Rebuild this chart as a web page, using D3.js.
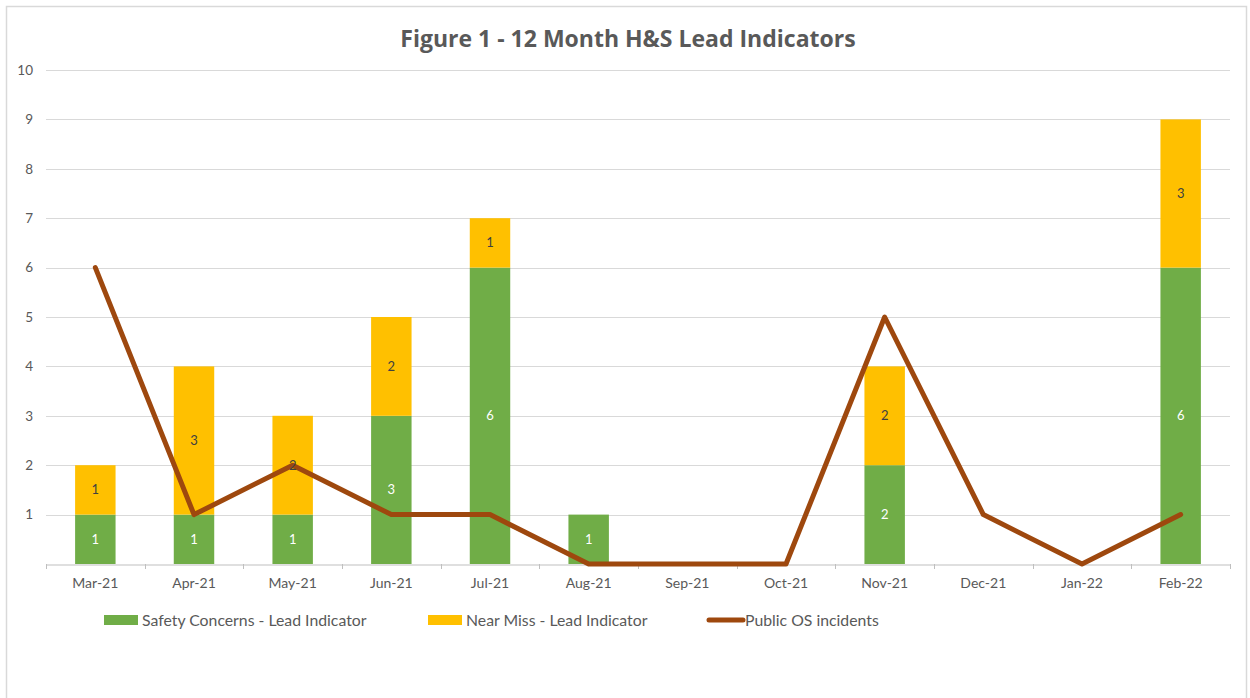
<!DOCTYPE html>
<html>
<head>
<meta charset="utf-8">
<script src="https://cdn.jsdelivr.net/npm/d3@7"></script>
<style>
  html, body { margin: 0; padding: 0; background: #ffffff; }
  svg { display: block; }
</style>
</head>
<body>
<svg id="chart" width="1250" height="698"></svg>
<script>
// Monthly categories and series
const months = ["Mar-21", "Apr-21", "May-21", "Jun-21", "Jul-21", "Aug-21",
                "Sep-21", "Oct-21", "Nov-21", "Dec-21", "Jan-22", "Feb-22"];
const safetyConcerns = [1, 1, 1, 3, 6, 1, 0, 0, 2, 0, 0, 6];
const nearMiss       = [1, 3, 2, 2, 1, 0, 0, 0, 2, 0, 0, 3];
const publicOS       = [6, 1, 2, 1, 1, 0, 0, 0, 5, 1, 0, 1];
const yTicks = [1, 2, 3, 4, 5, 6, 7, 8, 9, 10];

const seriesNames = ["Safety Concerns - Lead Indicator", "Near Miss - Lead Indicator", "Public OS incidents"];
const colors = { safety: "#70AD47", near: "#FFC000", line: "#9E480E" };
const font = "Lato, 'Open Sans', sans-serif";

const svg = d3.select("#chart");

// chart frame
svg.append("rect")
  .attr("x", 6.5).attr("y", 6.5)
  .attr("width", 1240).attr("height", 700)
  .attr("fill", "#ffffff")
  .attr("stroke", "#d9d9d9").attr("stroke-width", 1.5);

const plot = { left: 46, right: 1230, top: 70, bottom: 564 };

const x = d3.scaleBand().domain(months).range([plot.left, plot.right]).paddingInner(0).paddingOuter(0);
const y = d3.scaleLinear().domain([0, 10]).range([plot.bottom, plot.top]);
const barW = x.step() * 0.41;

// title
svg.append("text")
  .attr("x", 628).attr("y", 47)
  .attr("text-anchor", "middle")
  .attr("font-family", "'Open Sans', sans-serif")
  .attr("font-weight", "bold")
  .attr("font-size", 23)
  .attr("fill", "#595959")
  .text("Figure 1 - 12 Month H&S Lead Indicators");

// gridlines
svg.append("g")
  .selectAll("line")
  .data(yTicks)
  .join("line")
  .attr("x1", plot.left).attr("x2", plot.right)
  .attr("y1", d => Math.round(y(d)) + 0.5).attr("y2", d => Math.round(y(d)) + 0.5)
  .attr("stroke", "#d9d9d9").attr("stroke-width", 1);

// y axis labels
const yAxis = svg.append("g")
  .attr("transform", `translate(${plot.left},0)`)
  .call(d3.axisLeft(y).tickValues(yTicks).tickSize(0).tickPadding(13));
yAxis.select(".domain").remove();
yAxis.selectAll("text")
  .attr("font-family", font).attr("font-size", 13.5).attr("fill", "#595959");

// stacked bars
const stackData = months.map((m, i) => ({ month: m, safety: safetyConcerns[i], near: nearMiss[i] }));
const stacked = d3.stack().keys(["safety", "near"])(stackData);

const barG = svg.append("g");
stacked.forEach(layer => {
  barG.append("g")
    .attr("fill", colors[layer.key])
    .selectAll("rect")
    .data(layer.filter(d => d[1] - d[0] > 0))
    .join("rect")
    .attr("x", d => x(d.data.month) + (x.step() - barW) / 2)
    .attr("width", barW)
    .attr("y", d => y(d[1]))
    .attr("height", d => y(d[0]) - y(d[1]));
});

// x axis
const xAxis = svg.append("g")
  .attr("transform", `translate(0,${plot.bottom + 0.5})`)
  .call(d3.axisBottom(x).tickSize(0).tickPadding(14));
xAxis.select(".domain").attr("stroke", "#bfbfbf");
xAxis.selectAll("text")
  .attr("font-family", font).attr("font-size", 14).attr("fill", "#595959");
// category boundary ticks
svg.append("g")
  .selectAll("line")
  .data(d3.range(months.length + 1))
  .join("line")
  .attr("x1", i => Math.round(plot.left + i * x.step()) + 0.5)
  .attr("x2", i => Math.round(plot.left + i * x.step()) + 0.5)
  .attr("y1", plot.bottom).attr("y2", plot.bottom + 5)
  .attr("stroke", "#bfbfbf");

// line series
const line = d3.line()
  .x((d, i) => x(months[i]) + x.bandwidth() / 2)
  .y(d => y(d));
svg.append("path")
  .datum(publicOS)
  .attr("d", line)
  .attr("fill", "none")
  .attr("stroke", colors.line)
  .attr("stroke-width", 5)
  .attr("stroke-linejoin", "round")
  .attr("stroke-linecap", "round");

// data labels inside bar segments
stacked.forEach(layer => {
  svg.append("g")
    .selectAll("text")
    .data(layer.filter(d => d[1] - d[0] > 0))
    .join("text")
    .attr("x", d => x(d.data.month) + x.step() / 2)
    .attr("y", d => (y(d[0]) + y(d[1])) / 2)
    .attr("dy", "0.35em")
    .attr("text-anchor", "middle")
    .attr("font-family", font).attr("font-size", 13)
    .attr("fill", layer.key === "safety" ? "#ffffff" : "#404040")
    .text(d => d[1] - d[0]);
});

// legend
const legendItems = [
  { name: seriesNames[0], type: "rect", color: colors.safety, x: 104 },
  { name: seriesNames[1], type: "rect", color: colors.near, x: 428 },
  { name: seriesNames[2], type: "line", color: colors.line, x: 707 }
];
const legY = 620;
const leg = svg.append("g");
legendItems.forEach(it => {
  if (it.type === "rect") {
    leg.append("rect").attr("x", it.x).attr("y", legY - 5).attr("width", 34).attr("height", 10).attr("fill", it.color);
  } else {
    leg.append("line").attr("x1", it.x + 2).attr("x2", it.x + 36).attr("y1", legY).attr("y2", legY)
      .attr("stroke", it.color).attr("stroke-width", 5).attr("stroke-linecap", "round");
  }
  leg.append("text")
    .attr("x", it.x + 38).attr("y", legY).attr("dy", "0.35em")
    .attr("font-family", font).attr("font-size", 15.8).attr("fill", "#595959")
    .text(it.name);
});
</script>
</body>
</html>
